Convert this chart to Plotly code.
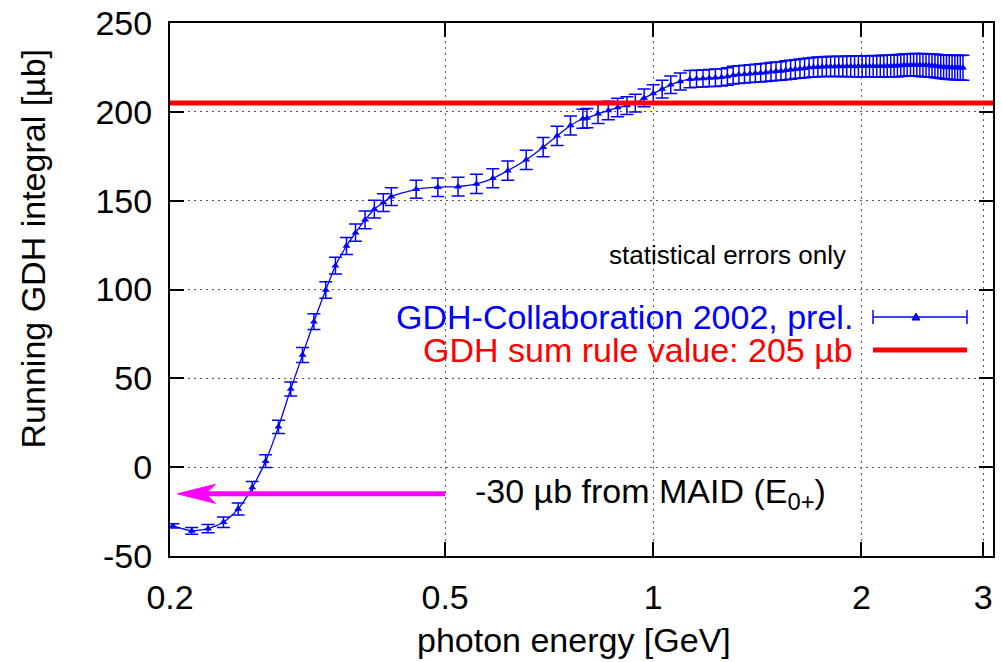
import math
import plotly.graph_objects as go

# ---------------- data ----------------
energy_low = [0.202, 0.215, 0.227, 0.239, 0.251, 0.263, 0.275, 0.287, 0.299, 0.311,
              0.323, 0.336, 0.347, 0.360, 0.371, 0.383, 0.395, 0.407, 0.418]
integral_low = [-33.1, -35.9, -34.6, -31.0, -23.5, -11.5, 3.4, 22.7, 44.0, 63.1,
                81.9, 99.7, 113.4, 124.5, 132.0, 139.2, 145.2, 148.9, 152.3]
err_low = [1.2, 1.9, 2.3, 3.0, 3.4, 3.5, 3.6, 3.7, 3.9, 4.2,
           4.4, 4.6, 4.7, 4.8, 4.9, 5.0, 5.0, 5.0, 5.0]

energy_mid = [0.454, 0.488, 0.522, 0.555, 0.586, 0.616, 0.655, 0.693, 0.726, 0.759,
              0.791, 0.802, 0.832, 0.861, 0.888, 0.916, 0.942, 0.970, 1.000, 1.030,
              1.060, 1.094, 1.130]
integral_mid = [156.4, 157.6, 157.9, 159.4, 162.6, 166.9, 173.0, 180.1, 186.5, 192.3,
                196.1, 196.5, 198.9, 200.7, 202.4, 203.5, 204.9, 207.8, 210.3, 212.8,
                215.2, 217.1, 218.4]
err_mid = [5.1, 5.2, 5.3, 5.4, 5.4, 5.4, 5.4, 5.4, 5.4, 5.4,
           5.4, 5.4, 5.4, 5.2, 5.2, 5.0, 5.0, 5.0, 5.0, 5.0,
           4.9, 4.8, 4.8]

energy_high = [1.155, 1.18, 1.205, 1.23, 1.255, 1.28, 1.305, 1.33,
               1.355, 1.38, 1.405, 1.43, 1.455, 1.48, 1.505, 1.53,
               1.555, 1.58, 1.605, 1.63, 1.655, 1.68, 1.705, 1.73,
               1.755, 1.78, 1.805, 1.83, 1.855, 1.88, 1.905, 1.93,
               1.955, 1.98, 2.005, 2.03, 2.055, 2.08, 2.105, 2.13,
               2.155, 2.18, 2.205, 2.23, 2.255, 2.28, 2.305, 2.33,
               2.355, 2.38, 2.405, 2.43, 2.455, 2.48, 2.505, 2.53,
               2.555, 2.58, 2.605, 2.63, 2.655, 2.68, 2.705, 2.73, 2.755, 2.78, 2.805]
integral_high = [218.6, 218.8, 219.0, 219.2, 219.4, 219.9, 220.6, 221.0,
                 221.2, 221.5, 221.7, 221.9, 222.2, 222.6, 222.8, 223.0,
                 223.4, 223.7, 224.0, 224.3, 224.6, 224.9, 225.1, 225.3,
                 225.4, 225.5, 225.5, 225.5, 225.6, 225.5, 225.6, 225.6,
                 225.5, 225.6, 225.7, 225.6, 225.6, 225.7, 225.6, 225.7,
                 225.7, 225.8, 225.8, 225.9, 226.0, 226.1, 226.3, 226.3,
                 226.4, 226.4, 226.4, 226.3, 226.3, 226.2, 226.1, 226.0,
                 225.8, 225.6, 225.4, 225.3, 225.1, 225.0, 225.0, 224.9, 224.9, 224.8, 224.8]
err_high = [4.8, 4.8, 4.8, 4.9, 4.9, 4.9, 5.0, 5.0,
            5.0, 5.0, 5.1, 5.1, 5.1, 5.2, 5.2, 5.2,
            5.3, 5.3, 5.3, 5.4, 5.4, 5.4, 5.5, 5.5,
            5.5, 5.6, 5.6, 5.6, 5.7, 5.7, 5.7, 5.8,
            5.8, 5.8, 5.9, 5.9, 5.9, 6.0, 6.0, 6.0,
            6.1, 6.1, 6.1, 6.2, 6.2, 6.2, 6.3, 6.3,
            6.3, 6.4, 6.4, 6.4, 6.5, 6.5, 6.5, 6.6,
            6.6, 6.6, 6.7, 6.7, 6.7, 6.8, 6.8, 6.8, 6.9, 6.9, 7.0]

x_tick_vals = [0.2, 0.5, 1, 2, 3]
x_tick_text = ["0.2", "0.5", "1", "2", "3"]
y_tick_vals = [-50, 0, 50, 100, 150, 200, 250]
y_tick_text = ["-50", "0", "50", "100", "150", "200", "250"]

GDH_SUM_RULE = 205          # µb
MAID_ARROW_Y = -15          # µb
MAID_ARROW_TAIL = 0.5       # GeV
MAID_ARROW_TIP = 0.205      # GeV
MAID_ARROW_LINE_END = 0.225 # GeV

energy = energy_low + energy_mid + energy_high
integral = integral_low + integral_mid + integral_high
stat_err = err_low + err_mid + err_high

# ---------------- styling ----------------
FONT = "Liberation Sans, Arial, Helvetica, sans-serif"
BLUE = "#0000ff"
RED = "#ff0000"
MAGENTA = "#ff00ff"
GRID = "#555555"

fig = go.Figure()
fig.add_trace(go.Scatter(
    x=energy, y=integral, mode="lines+markers",
    line=dict(color=BLUE, width=1.3, shape="spline", smoothing=0.6),
    marker=dict(symbol="triangle-up", size=7, color=BLUE),
    error_y=dict(type="data", array=stat_err, color=BLUE, thickness=1.5, width=6.5),
    showlegend=False, hoverinfo="x+y",
))

axis_common = dict(
    showline=True, linewidth=2, linecolor="black", mirror="ticks",
    ticks="inside", ticklen=14, tickwidth=2, tickcolor="black",
    showgrid=True, gridcolor=GRID, gridwidth=1, griddash="2px,4px",
    zeroline=False, automargin=False, ticklabeloverflow="allow",
    tickfont=dict(family=FONT, size=34, color="black"),
)

fig.update_layout(
    width=1002, height=662,
    margin=dict(l=170, r=9, t=23, b=106),
    paper_bgcolor="white", plot_bgcolor="white",
    font=dict(family=FONT, size=34, color="black"),
    xaxis=dict(type="log", range=[math.log10(0.2), math.log10(3.1)],
               tickvals=x_tick_vals, ticktext=x_tick_text,
               ticklabelstandoff=10, **axis_common),
    yaxis=dict(range=[-50, 250], tickvals=y_tick_vals, ticktext=y_tick_text,
               ticklabelstandoff=9, **axis_common),
)

shapes = []
# GDH sum rule line
shapes.append(dict(type="line", xref="paper", x0=0, x1=1, yref="y",
                   y0=GDH_SUM_RULE, y1=GDH_SUM_RULE,
                   line=dict(color=RED, width=5), layer="above"))
# MAID arrow
shapes.append(dict(type="line", xref="x", yref="y",
                   x0=MAID_ARROW_TAIL, x1=MAID_ARROW_LINE_END,
                   y0=MAID_ARROW_Y, y1=MAID_ARROW_Y,
                   line=dict(color=MAGENTA, width=5), layer="above"))
shapes.append(dict(type="path", xref="x", yref="y",
                   xsizemode="pixel", ysizemode="pixel",
                   xanchor=MAID_ARROW_TIP, yanchor=MAID_ARROW_Y,
                   path="M0,0 L38,9.5 L28,0 L38,-9.5 Z",
                   fillcolor=MAGENTA, line=dict(color=MAGENTA, width=1), layer="above"))

# legend keys (drawn manually, right of right-aligned labels)
key_x0, key_x1, key_xm = 0.8542, 0.9684, 0.9064
key_blue_y, key_red_y = 84.5, 65.9
shapes.append(dict(type="line", xref="paper", yref="y", x0=key_x0, x1=key_x1,
                   y0=key_blue_y, y1=key_blue_y, line=dict(color=BLUE, width=1.5)))
for kx in (key_x0, key_x1):
    shapes.append(dict(type="line", xref="paper", yref="y", xsizemode="scaled",
                       ysizemode="pixel", yanchor=key_blue_y,
                       x0=kx, x1=kx, y0=-7, y1=7, line=dict(color=BLUE, width=1.5)))
shapes.append(dict(type="path", xref="paper", yref="y", xsizemode="pixel",
                   ysizemode="pixel", xanchor=key_xm, yanchor=key_blue_y,
                   path="M-4,-3 L4,-3 L0,4 Z", fillcolor=BLUE,
                   line=dict(color=BLUE, width=1)))
shapes.append(dict(type="line", xref="paper", yref="y", x0=key_x0, x1=key_x1,
                   y0=key_red_y, y1=key_red_y, line=dict(color=RED, width=5)))
fig.update_layout(shapes=shapes)

annotations = [
    dict(text="photon energy [GeV]", xref="paper", yref="paper", x=0.491, y=-0.1576,
         xanchor="center", yanchor="middle", showarrow=False,
         font=dict(family=FONT, size=34, color="black")),
    dict(text="Running GDH integral [µb]", xref="paper", yref="paper", x=-0.1665, y=0.577,
         xanchor="center", yanchor="middle", textangle=-90, showarrow=False,
         font=dict(family=FONT, size=34, color="black")),
    dict(text="statistical errors only", xref="paper", yref="y", x=0.8238, y=119.4,
         xanchor="right", yanchor="middle", showarrow=False,
         font=dict(family=FONT, size=26, color="black")),
    dict(text="GDH-Collaboration 2002, prel.", xref="paper", yref="y", x=0.8323, y=key_blue_y,
         xanchor="right", yanchor="middle", showarrow=False,
         font=dict(family=FONT, size=34, color=BLUE)),
    dict(text="GDH sum rule value: 205 µb", xref="paper", yref="y", x=0.8323, y=key_red_y,
         xanchor="right", yanchor="middle", showarrow=False,
         font=dict(family=FONT, size=34, color=RED)),
    dict(text="-30 µb from MAID (E<sub>0+</sub>)", xref="paper", yref="y", x=0.3682,
         y=MAID_ARROW_Y, xanchor="left", yanchor="middle", showarrow=False,
         font=dict(family=FONT, size=34, color="black")),
]
fig.update_layout(annotations=annotations)

# remove the default 8px page margin so the figure fills the window exactly
fig.write_html("out.html", config={"displayModeBar": False},
               post_script="document.body.style.margin='0';")
